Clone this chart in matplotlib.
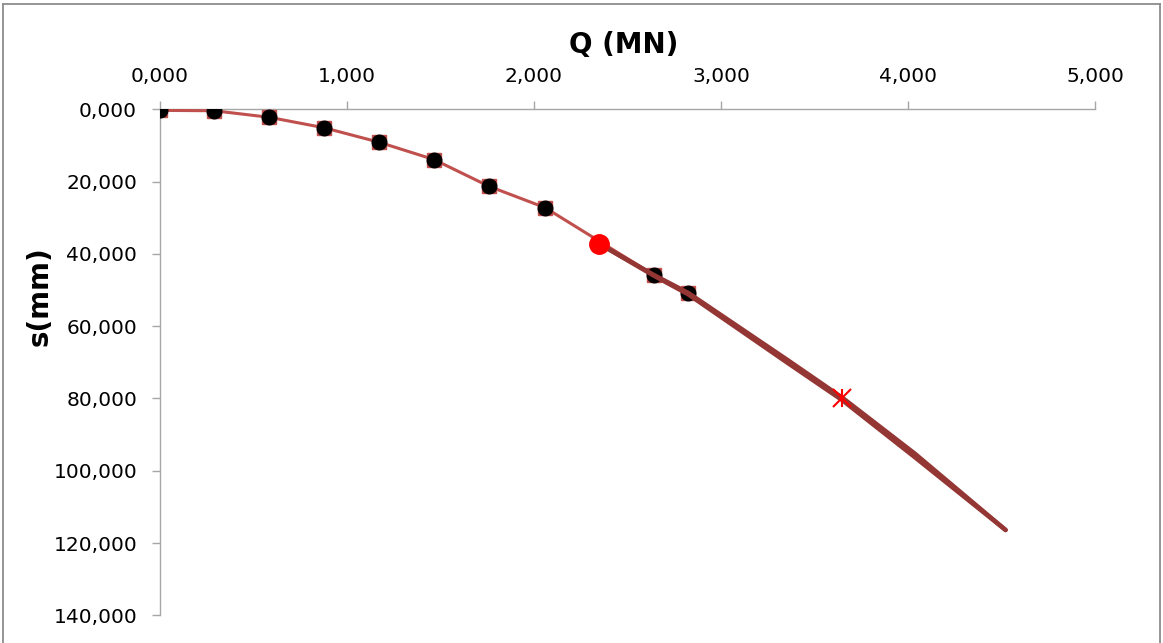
import numpy as np
import matplotlib.pyplot as plt
from matplotlib.lines import Line2D
from matplotlib.ticker import FuncFormatter

# load test: load Q (MN) vs settlement s (mm)
q_test = [0.0, 0.289, 0.583, 0.877, 1.171, 1.465, 1.759, 2.059, 2.643, 2.825]
s_test = [0.3, 0.4, 2.2, 5.1, 9.1, 13.9, 21.3, 27.2, 45.9, 50.8]

# extrapolated curve (two fits, nearly on top of each other)
q_fit = [2.349, 2.643, 2.825, 3.357, 3.649, 4.035, 4.522]
s_fit_a = [37.2, 45.9, 50.8, 69.4, 79.8, 95.2, 116.4]
s_fit_b = [37.2, 46.1, 51.2, 70.2, 80.5, 96.2, 116.4]

# characteristic points
q_point, s_point = 2.349, 37.2
q_limit, s_limit = 3.649, 80.0

x_ticks = [0, 1, 2, 3, 4, 5]
y_ticks = [0, 20, 40, 60, 80, 100, 120, 140]

W, H = 1163, 643
fig = plt.figure(figsize=(W / 100, H / 100), dpi=100)
ax = fig.add_axes([160 / W, 1 - 615.3 / H, 935 / W, 506 / H])

red = '#C0504D'
dark = '#943634'

ax.plot(q_test, s_test, color=red, lw=2.2, marker='s', ms=9.5,
        mfc=red, mec=red, zorder=3)
ax.plot(q_test, s_test, ls='none', marker='o', ms=10.5, mfc='black',
        mec='black', zorder=4)
ax.plot(q_fit, s_fit_b, color=dark, lw=3.2, solid_capstyle='round',
        solid_joinstyle='round', zorder=5)
ax.plot(q_fit, s_fit_a, color=dark, lw=3.2, solid_capstyle='round',
        solid_joinstyle='round', zorder=5)
ax.plot([q_point], [s_point], ls='none', marker='o', ms=14, color='#FF0000', zorder=6)
ax.plot([q_limit], [s_limit], ls='none', marker='x', ms=13, mew=1.5,
        color='#FF0000', zorder=6)
ax.plot([q_limit], [s_limit], ls='none', marker='|', ms=13, mew=1.5,
        color='#FF0000', zorder=6)

ax.set_xlim(0, 5)
ax.set_ylim(140, 0)
ax.set_xticks(x_ticks)
ax.set_yticks(y_ticks)
fmt = FuncFormatter(lambda v, p: '{:.3f}'.format(v).replace('.', ','))
ax.xaxis.set_major_formatter(fmt)
ax.yaxis.set_major_formatter(fmt)
ax.xaxis.tick_top()

for side in ['bottom', 'right']:
    ax.spines[side].set_visible(False)
for side in ['top', 'left']:
    ax.spines[side].set_color('#A6A6A6')
    ax.spines[side].set_linewidth(1.0)
ax.tick_params(axis='both', direction='out', length=5.5, width=1.0,
               color='#A6A6A6', labelsize=14.5, pad=11)
for lab in ax.get_xticklabels() + ax.get_yticklabels():
    lab.set_clip_on(False)

# axis titles
fig.text(624 / W, 1 - 45 / H, 'Q (MN)', fontsize=20, fontweight='bold',
         ha='center', va='center')
fig.text(40 / W, 1 - 296 / H, 's(mm)', fontsize=20, fontweight='bold',
         ha='center', va='center', rotation=90)

# chart border
border = dict(color='#8C8C8C', lw=1.3, transform=fig.transFigure)
fig.add_artist(Line2D([3 / W, 3 / W], [0, 1 - 4 / H], **border))
fig.add_artist(Line2D([1160 / W, 1160 / W], [0, 1 - 4 / H], **border))
fig.add_artist(Line2D([3 / W, 1160 / W], [1 - 4 / H, 1 - 4 / H], **border))

fig.savefig('out.png', dpi=100)
